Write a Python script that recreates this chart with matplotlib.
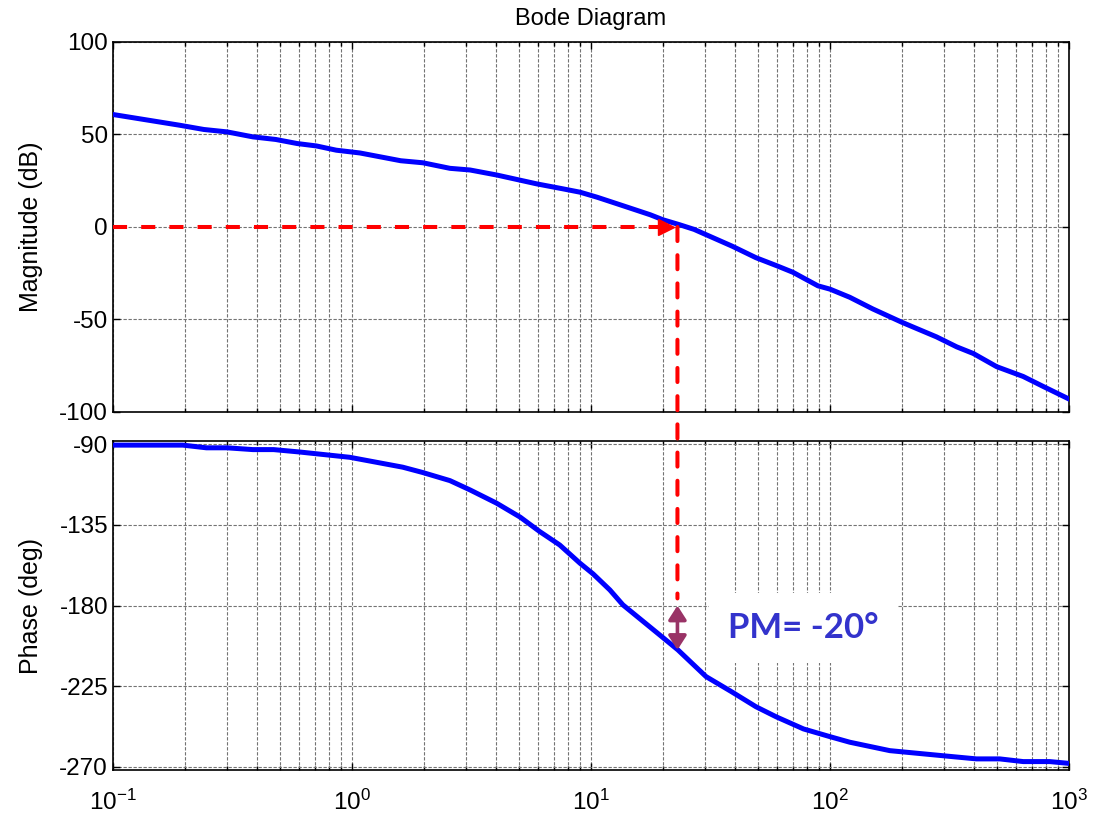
import numpy as np
import matplotlib
matplotlib.use("Agg")
import matplotlib.pyplot as plt
from matplotlib.patches import ConnectionPatch
from matplotlib.ticker import NullLocator

plt.rcParams['font.family'] = ['Liberation Sans', 'DejaVu Sans']
plt.rcParams['axes.unicode_minus'] = False

# open-loop response, read at uneven frequencies
mag_freq = [0.1, 0.19, 0.24, 0.3, 0.385, 0.48, 0.59, 0.71, 0.86, 1.08, 1.6, 1.98,
            2.57, 3.12, 4.03, 5.93, 7.64, 9.0, 10.6, 13.6, 17.7, 20, 23.5, 27,
            39, 49, 60, 70, 89, 100, 121, 151, 199, 222, 279, 339, 398, 498,
            643, 780, 1000]
mag_db = [60.8, 55, 52.7, 51.4, 48.7, 47.3, 45.1, 43.8, 41.5, 40, 35.8, 34.7,
          31.7, 30.8, 28.1, 23.3, 20.6, 18.8, 16.1, 11.5, 6.6, 3.9, 1.2, -1.3,
          -10.4, -16.6, -21, -24.5, -31.8, -33.6, -38, -44.3, -51.4, -54, -59.4,
          -64.8, -68.4, -75.5, -80.8, -86.2, -93]

ph_freq = [0.1, 0.196, 0.246, 0.3, 0.385, 0.47, 0.6, 0.98, 1.63, 1.98, 2.57, 3.12,
           4.03, 5.06, 6.1, 7.4, 9.0, 10.2, 12.0, 13.6, 19.4, 23.1, 30.3, 38.7,
           49, 59.5, 77.5, 100, 121, 178, 295, 410, 513, 643, 830, 1000]
ph_deg = [-90.5, -90.5, -92, -92, -93, -93, -94.3, -97.3, -102.8, -105.8, -110.3,
          -115.5, -122.9, -130.7, -138.7, -146.2, -156.4, -162.3, -171.3, -179.6,
          -196.4, -204.7, -219.6, -228, -236.4, -242, -248.8, -253.1, -256.2,
          -260.9, -263.7, -265.5, -265.5, -267, -267, -268]

w_gc = 23.0          # gain crossover
ph_gc = -204.7       # phase at crossover
pm_text = 'PM= -20\u00b0'

mag_ticks = [-100, -50, 0, 50, 100]
ph_ticks = [-270, -225, -180, -135, -90]

fig = plt.figure(figsize=(10.99, 8.15), dpi=100)
ax1 = fig.add_axes([0.1028, 0.4945, 0.8699, 0.454])
ax2 = fig.add_axes([0.1028, 0.0552, 0.8699, 0.4037])

ax1.semilogx(mag_freq, mag_db, color='#0000ff', lw=3.6, zorder=3)
ax2.semilogx(ph_freq, ph_deg, color='#0000ff', lw=3.6, zorder=3)

for ax, ticks in ((ax1, mag_ticks), (ax2, ph_ticks)):
    ax.set_xlim(0.1, 1000)
    ax.set_yticks(ticks)
    ax.yaxis.set_minor_locator(NullLocator())
    ax.grid(True, which='both', axis='x', color='0.45', lw=0.8, ls=(0, (3, 1.5)))
    ax.grid(True, which='major', axis='y', color='0.45', lw=0.8, ls=(0, (3, 1.5)))
    ax.tick_params(which='both', direction='in', top=True, right=True,
                   labelsize=17.5, length=5, width=1)
    ax.tick_params(which='minor', length=3)
    for s in ax.spines.values():
        s.set_linewidth(1.2)

ax1.set_ylim(-100, 100)
ax2.set_ylim(-271.7, -88.2)
ax1.tick_params(labelbottom=False)
ax2.tick_params(axis='x', pad=14)

ax1.set_title('Bode Diagram', fontsize=17, pad=12)
ax1.set_ylabel('Magnitude (dB)', fontsize=18)
ax2.set_ylabel('Phase (deg)', fontsize=18)
ax1.yaxis.set_label_coords(-0.073, 0.5)
ax2.yaxis.set_label_coords(-0.073, 0.5)

# 0 dB line up to the crossover, then down to the phase plot
red = '#ff0000'
ax1.plot([0.1, 20.2], [0, 0], color=red, lw=2.9, dashes=(3.5, 3.5), zorder=4)
ax1.plot([20.6], [0], marker='>', color=red, markersize=12, zorder=4)
con = ConnectionPatch(xyA=(w_gc, 0), coordsA=ax1.transData,
                      xyB=(w_gc, -176), coordsB=ax2.transData,
                      color=red, lw=2.9, linestyle=(0, (3.5, 3.5)), zorder=5)
fig.add_artist(con)

ax2.annotate('', xy=(w_gc, -180), xytext=(w_gc, ph_gc),
             arrowprops=dict(arrowstyle='<|-|>,head_length=0.42,head_width=0.27',
                             color='#993366', lw=2.6,
                             mutation_scale=20, shrinkA=0, shrinkB=0), zorder=5)

ax2.text(0.643, 0.432, pm_text, transform=ax2.transAxes, fontsize=25,
         fontweight='bold', color='#3333cc', family=['Lato', 'DejaVu Sans'],
         va='center', ha='left', zorder=2.5,
         bbox=dict(boxstyle='square,pad=0.55', facecolor='white', edgecolor='none'))

fig.savefig('out.png', dpi=100)
